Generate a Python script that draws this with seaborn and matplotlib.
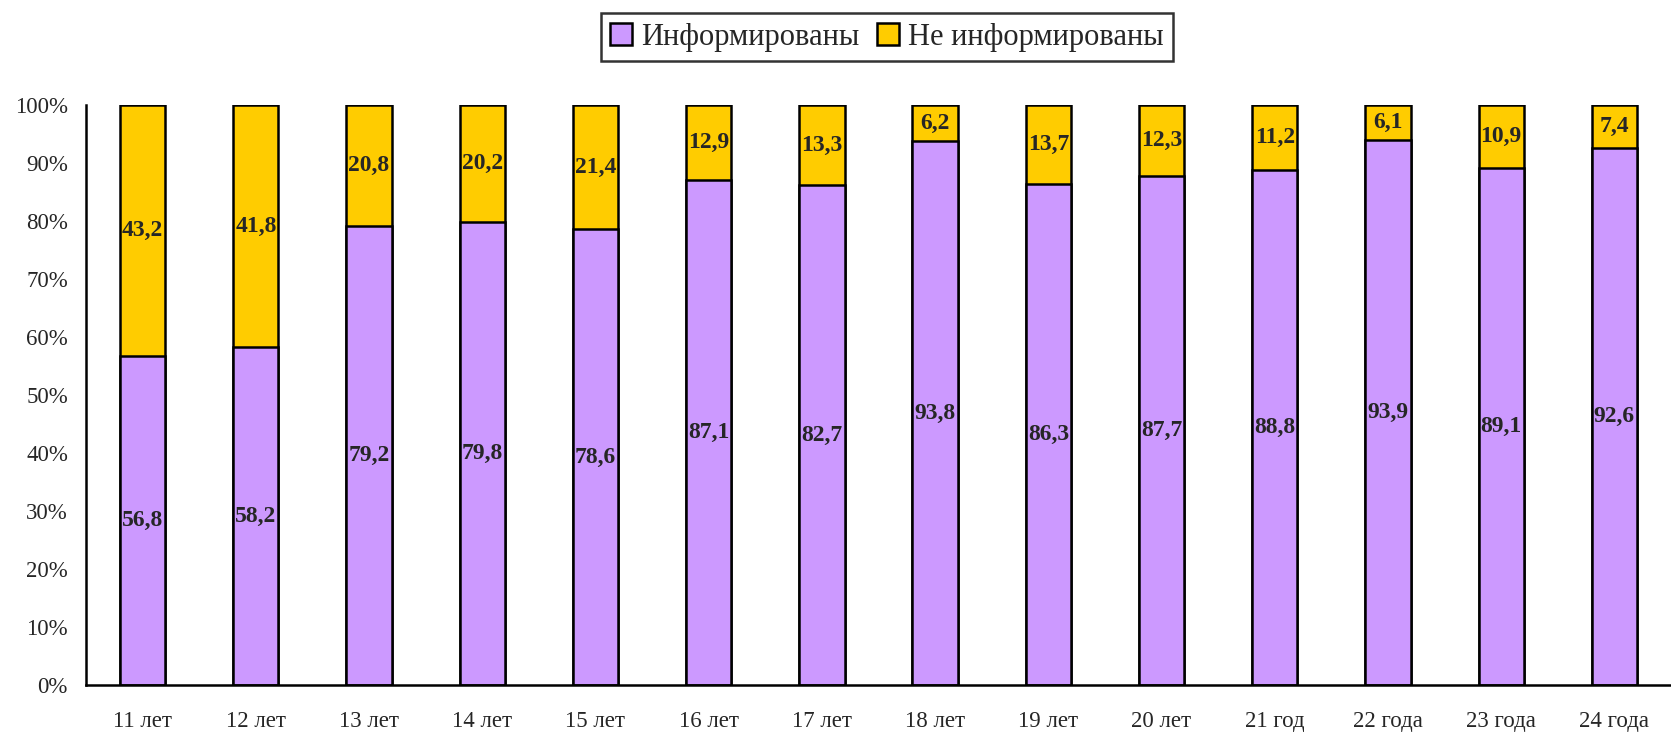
import matplotlib
matplotlib.use("Agg")
import matplotlib.pyplot as plt
import seaborn as sns
import numpy as np
import pandas as pd
from matplotlib.patches import Patch
from matplotlib.ticker import PercentFormatter

ages = ["11 лет", "12 лет", "13 лет", "14 лет", "15 лет", "16 лет", "17 лет",
        "18 лет", "19 лет", "20 лет", "21 год", "22 года", "23 года", "24 года"]
informed = [56.8, 58.2, 79.2, 79.8, 78.6, 87.1, 82.7, 93.8, 86.3, 87.7, 88.8, 93.9, 89.1, 92.6]
not_informed = [43.2, 41.8, 20.8, 20.2, 21.4, 12.9, 13.3, 6.2, 13.7, 12.3, 11.2, 6.1, 10.9, 7.4]

purple = "#CC99FF"
yellow = "#FFCC00"

sns.set_style("white")
plt.rcParams["font.family"] = ["Liberation Serif", "DejaVu Serif"]

# 100% stacked: normalise each column
total = np.array(informed) + np.array(not_informed)
df = pd.DataFrame({
    "age": ages,
    "inf": np.array(informed) / total * 100,
    "total": np.full(len(ages), 100.0),
})

fig = plt.figure(figsize=(16.71, 7.34), dpi=100)
ax = fig.add_axes([86 / 1671, 49 / 734, 1585 / 1671, 580 / 734])

sns.barplot(data=df, x="age", y="total", color=yellow, width=0.4,
            edgecolor="black", linewidth=1.8, saturation=1, ax=ax)
sns.barplot(data=df, x="age", y="inf", color=purple, width=0.4,
            edgecolor="black", linewidth=1.8, saturation=1, ax=ax)

for i in range(len(ages)):
    p = df["inf"][i]
    ax.text(i, p / 2, f"{informed[i]:.1f}".replace(".", ","), ha="center", va="center",
            fontsize=17, fontweight="bold")
    ax.text(i, p + (100 - p) / 2, f"{not_informed[i]:.1f}".replace(".", ","),
            ha="center", va="center", fontsize=17, fontweight="bold")

ax.set_ylim(0, 100)
ax.set_xlim(-0.5, 13.38)
ax.set_yticks(np.arange(0, 101, 10))
ax.yaxis.set_major_formatter(PercentFormatter(decimals=0))
ax.set_xticks(np.arange(len(ages)))
ax.set_xticklabels(ages)
ax.set_xticks(np.arange(len(ages)) + 0.5, minor=True)
ax.tick_params(axis="x", which="major", length=0, pad=19, labelsize=16.5)
ax.tick_params(axis="x", which="minor", length=7, width=1.8, direction="out", color="black")
ax.tick_params(axis="y", length=7, width=1.8, direction="out", color="black", labelsize=16.5, pad=6)
ax.set_xlabel("")
ax.set_ylabel("")
for s in ["top", "right"]:
    ax.spines[s].set_visible(False)
for s in ["left", "bottom"]:
    ax.spines[s].set_color("black")
    ax.spines[s].set_linewidth(1.8)

handles = [Patch(facecolor=purple, edgecolor="black", linewidth=1.8, label="Информированы"),
           Patch(facecolor=yellow, edgecolor="black", linewidth=1.8, label="Не информированы")]
leg = fig.legend(handles=handles, loc="center", bbox_to_anchor=(887 / 1671, 1 - 37 / 734),
                 ncol=2, fontsize=22, frameon=True, fancybox=False, handlelength=0.7,
                 handleheight=0.7, handletextpad=0.3, columnspacing=0.6,
                 borderpad=0.3, edgecolor="black")
leg.get_frame().set_linewidth(1.8)

fig.savefig("out.png", dpi=100)
